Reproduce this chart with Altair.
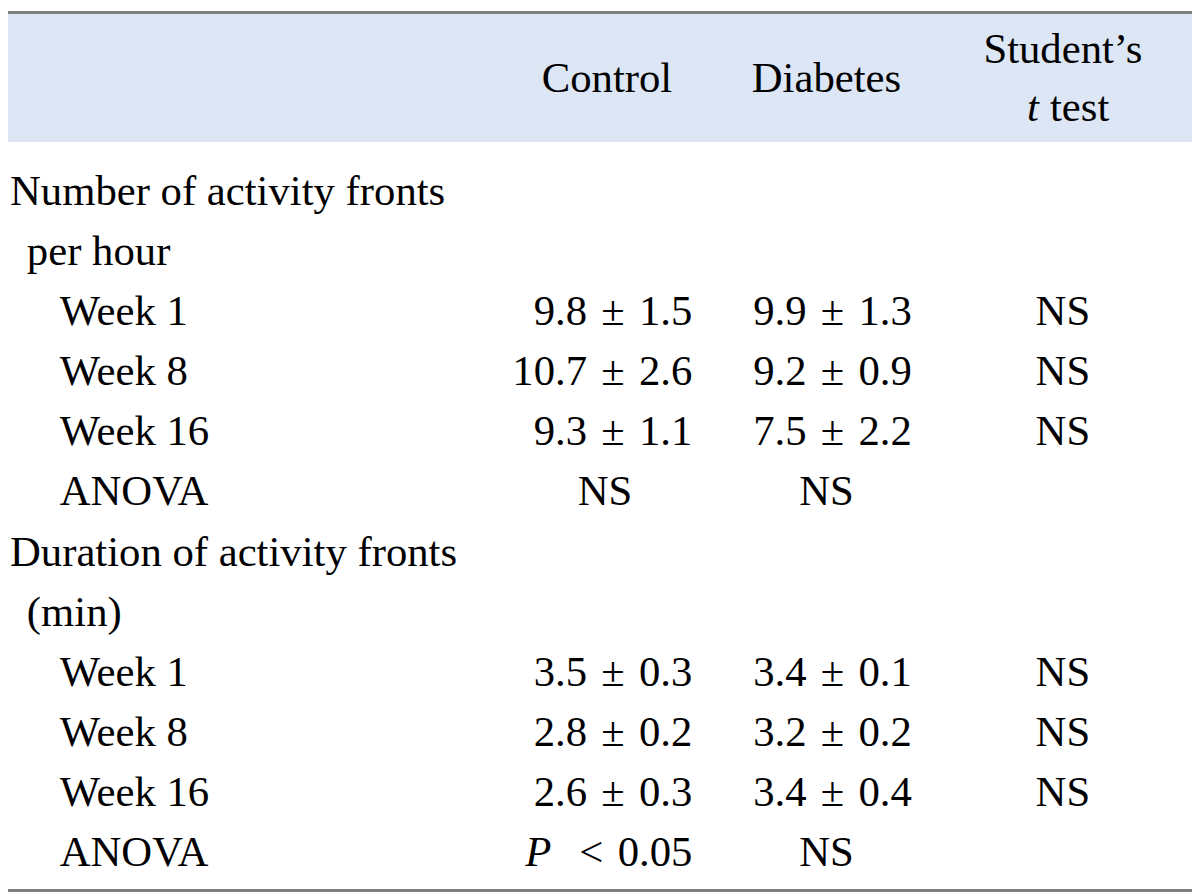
import altair as alt
import pandas as pd

# ---- data ----
row_labels = ["Number of activity fronts", "per hour", "Week 1", "Week 8", "Week 16", "ANOVA",
              "Duration of activity fronts", "(min)", "Week 1", "Week 8", "Week 16", "ANOVA"]
row_indent = [0, 1, 2, 2, 2, 2, 0, 1, 2, 2, 2, 2]
control = ["", "", "9.8 ± 1.5", "10.7 ± 2.6", "9.3 ± 1.1", "NS",
           "", "", "3.5 ± 0.3", "2.8 ± 0.2", "2.6 ± 0.3", "P|< 0.05"]
diabetes = ["", "", "9.9 ± 1.3", "9.2 ± 0.9", "7.5 ± 2.2", "NS",
            "", "", "3.4 ± 0.1", "3.2 ± 0.2", "3.4 ± 0.4", "NS"]
ttest = ["", "", "NS", "NS", "NS", "",
         "", "", "NS", "NS", "NS", ""]

# ---- layout ----
W, H = 1192, 887
OFF = 8
FONT = "Liberation Serif"
FS = 43
SP = "\u2004"  # slightly wider spacing around ± and <
row_y = [190 - OFF + 60.55 * i for i in range(len(row_labels))]
indent_x = [10 - OFF, 27 - OFF, 60 - OFF]

xs = alt.Scale(domain=[0, W], range=[0, W])
ys = alt.Scale(domain=[0, H], range=[0, H])

def X(f="x"):
    return alt.X(f"{f}:Q", scale=xs, axis=None)

def Y(f="y"):
    return alt.Y(f"{f}:Q", scale=ys, axis=None)

def txt(df, align="left", style="normal"):
    return alt.Chart(df).mark_text(font=FONT, fontSize=FS, baseline="middle", align=align,
                                   fontStyle=style, color="black").encode(x=X(), y=Y(), text="t:N")

# header band and borders
band = pd.DataFrame({"x": [0], "x2": [W], "y": [3], "y2": [132]})
band_l = alt.Chart(band).mark_rect(color="#dce6f5").encode(
    x=X(), x2="x2:Q", y=Y(), y2="y2:Q")
borders = pd.DataFrame({"x": [0, 0], "x2": [W, W], "y": [0, 884], "y2": [3, 887]})
border_l = alt.Chart(borders).mark_rect(color="#7f7f7f").encode(
    x=X(), x2="x2:Q", y=Y(), y2="y2:Q")

# header texts
hdr_l = txt(pd.DataFrame({"t": ["Control", "Diabetes", "Student’s"],
                          "x": [611 - OFF, 832 - OFF, 1070 - OFF],
                          "y": [77 - OFF, 77 - OFF, 47 - OFF]}), "center")
hdr2_l = txt(pd.DataFrame({"t": ["test"], "x": [1057 - OFF], "y": [106 - OFF]}), "left")
hdr3_l = txt(pd.DataFrame({"t": ["t"], "x": [1034 - OFF], "y": [106 - OFF]}), "left", "italic")

# row labels
lab_l = txt(pd.DataFrame({"t": row_labels, "x": [indent_x[i] for i in row_indent], "y": row_y}))

# values
def val_rows(vals, x_right, x_center):
    recs = []
    for v, y in zip(vals, row_y):
        if v == "":
            continue
        if v == "NS":
            recs.append({"t": v, "x": x_center, "y": y, "a": "center", "s": "normal"})
        elif "|" in v:
            p, rest = v.split("|")
            recs.append({"t": rest.replace(" ", SP), "x": x_right, "y": y, "a": "right", "s": "normal"})
            recs.append({"t": p, "x": x_right - 142, "y": y, "a": "right", "s": "italic"})
        else:
            recs.append({"t": v.replace(" ", SP), "x": x_right, "y": y, "a": "right", "s": "normal"})
    return recs

recs = (val_rows(control, 697 - OFF, 609 - OFF)
        + val_rows(diabetes, 918 - OFF, 832 - OFF)
        + val_rows(ttest, 1100 - OFF, 1070 - OFF))
vals = pd.DataFrame(recs)

layers = []
for a in ["left", "center", "right"]:
    for s in ["normal", "italic"]:
        sub = vals[(vals.a == a) & (vals.s == s)]
        if len(sub):
            layers.append(txt(sub, a, s))

chart = alt.layer(band_l, border_l, hdr_l, hdr2_l, hdr3_l, lab_l, *layers).properties(
    width=W, height=H, padding=0, background="white"
).configure_view(stroke=None)

chart.save("out.html", embed_options={"renderer": "svg", "actions": False})
